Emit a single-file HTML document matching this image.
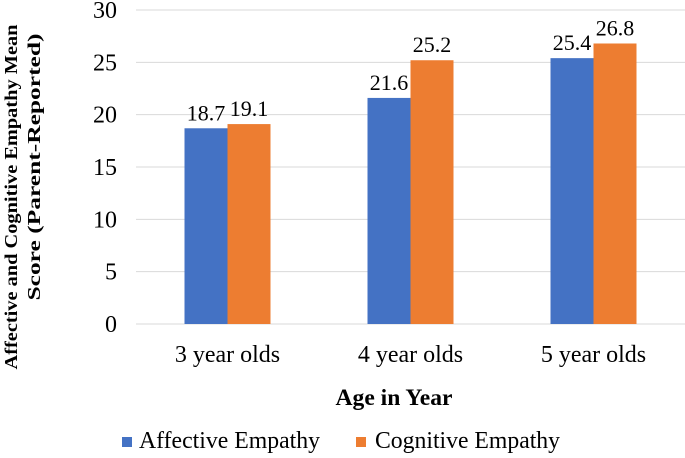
<!DOCTYPE html>
<html><head><meta charset="utf-8"><style>
body{margin:0;background:#fff;}
svg{display:block;}
text{font-family:"Liberation Serif","DejaVu Serif",serif;}
</style></head><body>
<svg id="chart" width="685" height="458" font-family="Liberation Serif, serif">
<g id="grid"></g><g id="bars"></g><g id="labels"></g>
<text transform="translate(17,197) rotate(-90)" text-anchor="middle" font-weight="bold" font-size="18" textLength="345" lengthAdjust="spacingAndGlyphs">Affective and Cognitive Empathy Mean</text>
<text transform="translate(40,167) rotate(-90)" text-anchor="middle" font-weight="bold" font-size="18" textLength="267" lengthAdjust="spacingAndGlyphs">Score (Parent-Reported)</text>
<text x="394" y="405" text-anchor="middle" font-weight="bold" font-size="23" textLength="117" lengthAdjust="spacingAndGlyphs">Age in Year</text>
<g>
<rect x="122" y="437" width="10" height="10" fill="#4472C4"/>
<text x="139" y="448" font-size="24" textLength="181" lengthAdjust="spacingAndGlyphs">Affective Empathy</text>
<rect x="356" y="437" width="10" height="10" fill="#ED7D31"/>
<text x="375" y="448" font-size="24" textLength="185" lengthAdjust="spacingAndGlyphs">Cognitive Empathy</text>
</g>
</svg>
<script>
const categories=["3 year olds","4 year olds","5 year olds"];
const affective=[18.7,21.6,25.4];
const cognitive=[19.1,25.2,26.8];
const ticks=[0,5,10,15,20,25,30];
const NS="http://www.w3.org/2000/svg";
const x0=136,x1=685,y0=324,y1=10,ymax=30;
const y=v=>y0-(v/ymax)*(y0-y1);
const bw=(x1-x0)/categories.length;
const cx=i=>x0+bw*(i+0.5);
function mk(t,a,p,txt){const e=document.createElementNS(NS,t);for(const k in a)e.setAttribute(k,a[k]);if(txt!=null)e.textContent=txt;document.getElementById(p).appendChild(e);return e;}
ticks.forEach(t=>{
 const l=mk('line',{x1:x0,x2:x1,y1:y(t),y2:y(t),stroke:'#d9d9d9','stroke-width':1},'grid');
 
 
 const tx=mk('text',{x:117,y:y(t)+8,'text-anchor':'end','font-size':24},'labels',t);
 
 
});
const w=43;
categories.forEach((c,i)=>{
 const a=mk('rect',{x:cx(i)-w,y:y(affective[i]),width:w,height:y0-y(affective[i]),fill:'#4472C4'},'bars');
 
 
 const b=mk('rect',{x:cx(i),y:y(cognitive[i]),width:w,height:y0-y(cognitive[i]),fill:'#ED7D31'},'bars');
 
 
 const la=mk('text',{x:cx(i)-w/2,y:y(affective[i])-8,'text-anchor':'middle','font-size':22},'labels',affective[i].toFixed(1));
 
 
 const lb=mk('text',{x:cx(i)+w/2,y:y(cognitive[i])-8,'text-anchor':'middle','font-size':22},'labels',cognitive[i].toFixed(1));
 
 
 const cl=mk('text',{x:cx(i),y:362,'text-anchor':'middle','font-size':24},'labels',c);
 
 
});
</script>
</body></html>
